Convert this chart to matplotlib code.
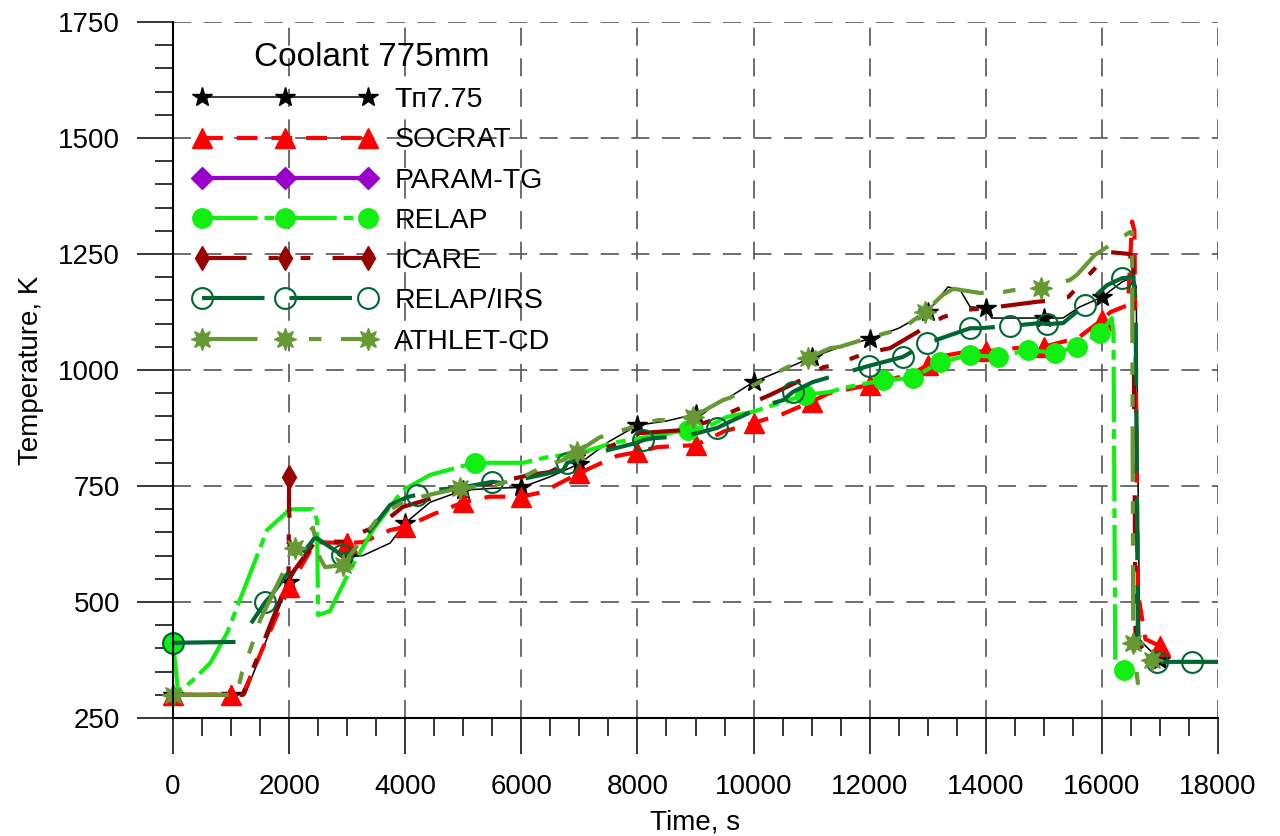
import matplotlib
matplotlib.use("Agg")
import matplotlib.pyplot as plt
from matplotlib.ticker import MultipleLocator

plt.rcParams['font.family'] = ['Liberation Sans', 'DejaVu Sans']
plt.rcParams['lines.scale_dashes'] = False

# Tп7.75 thermocouple (coolant, 775 mm)
t_tp = [0, 1000, 1240, 2000, 2430, 3000, 3270, 3740, 4000, 4430, 5000, 5500, 6000, 6500,
        7000, 7500, 8000, 8500, 9000, 9500, 10000, 10500, 11000, 11500, 12000, 12500,
        13000, 13350, 13560, 13730, 14000, 14100, 14470, 15000, 15330, 15620, 16000,
        16350, 16540, 16590, 16650, 17000]
T_tp = [300, 300, 300, 543, 638, 597, 600, 627, 670, 715, 741, 745, 747, 770,
        798, 845, 881, 890, 905, 935, 974, 1000, 1027, 1050, 1067, 1090,
        1125, 1179, 1172, 1136, 1134, 1112, 1112, 1112, 1112, 1136, 1157,
        1190, 1200, 1180, 418, 375]

t_socrat = [0, 1000, 1200, 2000, 2450, 3000, 3270, 3740, 4000, 4500, 5000, 5450, 6000,
            6370, 7000, 7650, 8000, 8350, 9000, 9500, 10000, 10500, 11000, 11300, 12000,
            12200, 12750, 13000, 13250, 13700, 14000, 14500, 15000, 15600, 16000, 16150,
            16450, 16520, 16560, 16620, 16750, 17000, 17200]
T_socrat = [300, 300, 300, 532, 629, 627, 629, 655, 662, 690, 715, 727, 727,
            737, 778, 815, 823, 834, 838, 868, 886, 905, 932, 950, 968,
            974, 993, 1011, 1030, 1040, 1040, 1047, 1050, 1070, 1108, 1125,
            1140, 1320, 1300, 520, 420, 405, 405]

t_param = []
T_param = []

t_relap = [0, 90, 345, 640, 930, 1150, 1620, 2015, 2410, 2480, 2500, 2700, 3050, 3440,
           3740, 3960, 4430, 5200, 5580, 6030, 6440, 7010, 7580, 8870, 9200, 9540, 9990,
           10500, 10890, 11320, 11610, 12230, 12750, 13210, 13730, 14210, 14730, 15190,
           15570, 15970, 16170, 16200, 16230, 16380]
T_relap = [412, 304, 332, 368, 433, 504, 655, 700, 700, 677, 472, 480, 569, 655,
           705, 741, 774, 800, 800, 800, 812, 821, 843, 871, 877, 899, 910,
           931, 946, 953, 963, 978, 983, 1017, 1032, 1028, 1043, 1037,
           1050, 1080, 1112, 1080, 375, 353]
relap_marks = [0, 5200, 8870, 10890, 12230, 12750, 13210, 13730, 14210, 14730,
               15190, 15570, 15970, 16380]

t_icare = [0, 1000, 1200, 1990, 2000, 2010, 2450, 3000, 3140, 3570, 3960, 4500, 5000,
           5170, 5600, 6150, 6490, 7130, 7580, 8040, 8730, 9300, 10280, 10750, 11200,
           11370, 11950, 12350, 13260, 13700, 14200, 14450, 14880, 15050, 15420, 16140,
           16480, 16540, 16580, 16700]
T_icare = [300, 300, 300, 550, 770, 555, 630, 630, 645, 666, 705, 725, 746,
           748, 758, 774, 780, 821, 838, 864, 870, 892, 946, 974, 1006,
           1010, 1037, 1047, 1114, 1130, 1136, 1140, 1147, 1149, 1157, 1254,
           1250, 1240, 420, 400]
icare_marks = [2000]

t_irs = [0, 1100, 1360, 1590, 1670, 2450, 2910, 3050, 3270, 3740, 4030, 4200, 4430,
         4940, 5500, 5680, 6720, 6790, 7350, 7990, 8100, 8270, 8850, 9370, 9650, 10230,
         10510, 10680, 11020, 11320, 11990, 12570, 12990, 13730, 13900, 14420, 14930,
         15050, 15330, 15710, 16090, 16350, 16540, 16580, 16620, 16950, 17550, 18000]
T_irs = [412, 414, 457, 500, 511, 640, 601, 606, 634, 709, 726, 731, 741,
         746, 759, 756, 784, 800, 823, 843, 849, 853, 858, 875, 892, 925,
         935, 953, 974, 985, 1009, 1028, 1058, 1090, 1090, 1095, 1101,
         1099, 1101, 1140, 1183, 1198, 1200, 1150, 420, 371, 371, 371]
irs_marks = [0, 1590, 2910, 4200, 5500, 6790, 8100, 9370, 10680, 11990, 12570, 12990,
             13730, 14420, 15050, 15710, 16350, 16950, 17550]

t_athlet = [0, 1100, 1190, 1270, 1450, 1500, 2100, 2410, 2530, 2620, 2930, 3050, 3570,
            4030, 4950, 5500, 6000, 6440, 6720, 6960, 7350, 7920, 8340, 8510, 8960, 9470,
            9590, 10580, 10850, 10940, 11320, 11490, 11970, 12470, 12570, 12950, 13260,
            13440, 13900, 14300, 14470, 14950, 15450, 15570, 15880, 16480, 16520, 16540,
            16620, 16770, 16860]
T_athlet = [300, 300, 349, 375, 440, 461, 616, 660, 595, 575, 580, 601, 687,
            720, 746, 750, 768, 795, 806, 823, 855, 877, 892, 892, 899, 935,
            940, 1006, 1017, 1026, 1047, 1050, 1069, 1086, 1090, 1125, 1162,
            1175, 1166, 1168, 1172, 1177, 1194, 1205, 1248, 1297, 1297, 412,
            325, 368, 375]
athlet_marks = [0, 2100, 2930, 4950, 6960, 8960, 10940, 12950, 14950, 16540, 16860]

W, H = 1280, 836
fig = plt.figure(figsize=(W / 100, H / 100), dpi=100)
ax = fig.add_axes([173 / W, 1 - 718 / H, (1218 - 173) / W, (718 - 22) / H])


def every_1000(ts):
    return [i for i, t in enumerate(ts) if t % 1000 == 0]


def idx(ts, marks):
    return [ts.index(m) for m in marks]


ax.plot(t_tp, T_tp, color='black', lw=1.1, marker='*', ms=15,
        markevery=every_1000(t_tp), label='Tп7.75', clip_on=False)
ax.plot(t_socrat, T_socrat, color='#FF0000', lw=3, dashes=(15, 10), marker='^', ms=14,
        markevery=every_1000(t_socrat), label='SOCRAT', clip_on=False)
ax.plot(t_param, T_param, color='#9900CC', lw=3, marker='D', ms=11, label='PARAM-TG')
ax.plot(t_relap, T_relap, color='#11EE11', lw=3, dashes=(40, 5, 7, 5), marker='o', ms=14,
        markevery=idx(t_relap, relap_marks), label='RELAP', clip_on=False)
ax.plot(t_icare, T_icare, color='#990000', lw=3, dashes=(32, 16, 7, 16, 7, 16),
        marker='d', ms=12, markevery=idx(t_icare, icare_marks), label='ICARE', clip_on=False)
ax.plot(t_irs, T_irs, color='#006633', lw=3, dashes=(45, 18), marker='o', ms=15,
        mfc='none', mew=1.5, markevery=idx(t_irs, irs_marks), label='RELAP/IRS', clip_on=False)
ax.plot(t_athlet, T_athlet, color='#669933', lw=3, dashes=(40, 14, 9, 14, 9, 14),
        marker=(8, 1, 0), ms=16, markevery=idx(t_athlet, athlet_marks),
        label='ATHLET-CD', clip_on=False)

ax.set_xlim(0, 18000)
ax.set_ylim(250, 1750)
ax.xaxis.set_major_locator(MultipleLocator(2000))
ax.xaxis.set_minor_locator(MultipleLocator(500))
ax.yaxis.set_major_locator(MultipleLocator(250))
ax.yaxis.set_minor_locator(MultipleLocator(50))

ax.grid(True, which='major', color='#555555', lw=1.2, dashes=(13, 9))
ax.set_axisbelow(True)

for side in ('top', 'right'):
    ax.spines[side].set_visible(False)
for side in ('left', 'bottom'):
    ax.spines[side].set_linewidth(1.5)

ax.tick_params(which='major', direction='out', length=26, width=1.1, labelsize=20, pad=12)
ax.tick_params(which='minor', direction='out', length=13, width=1.1)
ax.tick_params(axis='x', which='major', pad=14)

ax.set_xlabel('Time, s', fontsize=20, labelpad=7)
ax.set_ylabel('Temperature, K', fontsize=20, labelpad=10)

leg = ax.legend(loc='upper left', bbox_to_anchor=(193 / W, 1 - 42 / H),
                bbox_transform=fig.transFigure, frameon=False, numpoints=3,
                title='Coolant 775mm', title_fontsize=24, fontsize=20.5,
                handlelength=6.46, handletextpad=0.61, labelspacing=0.5,
                borderpad=0, borderaxespad=0)

fig.savefig('out.png', dpi=100)
